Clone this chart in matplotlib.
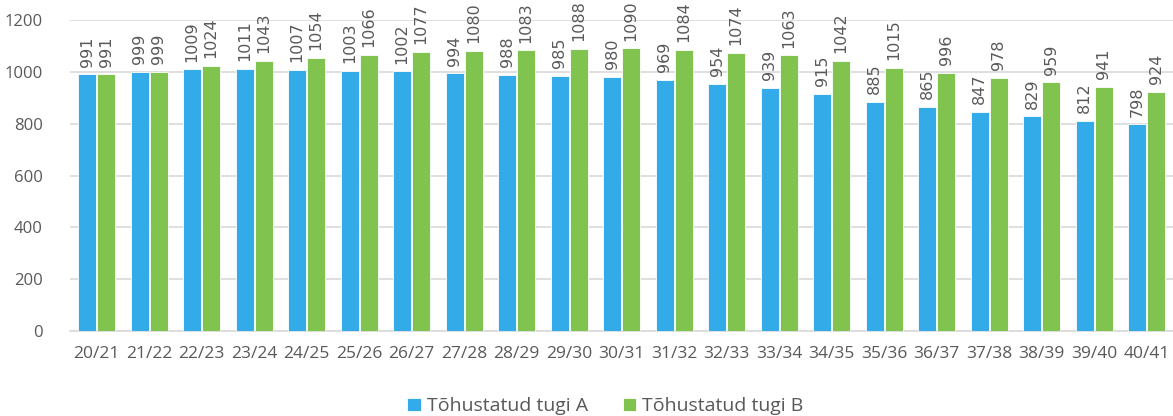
import matplotlib.pyplot as plt
import numpy as np

plt.rcParams['font.family'] = ['Open Sans', 'DejaVu Sans']

seasons = ['20/21', '21/22', '22/23', '23/24', '24/25', '25/26', '26/27', '27/28',
           '28/29', '29/30', '30/31', '31/32', '32/33', '33/34', '34/35', '35/36',
           '36/37', '37/38', '38/39', '39/40', '40/41']
tugi_a = [991, 999, 1009, 1011, 1007, 1003, 1002, 994, 988, 985, 980, 969,
          954, 939, 915, 885, 865, 847, 829, 812, 798]
tugi_b = [991, 999, 1024, 1043, 1054, 1066, 1077, 1080, 1083, 1088, 1090, 1084,
          1074, 1063, 1042, 1015, 996, 978, 959, 941, 924]

blue = '#33ABE9'
green = '#80C34F'
grey = '#595959'

fig = plt.figure(figsize=(11.73, 4.16), dpi=100)
ax = fig.add_axes([0.06, 0.204, 0.94, 0.748])

x = np.arange(len(seasons))
w = 0.34
bars_a = ax.bar(x - w / 2 - 0.01, tugi_a, w, color=blue, edgecolor='white', linewidth=0.6,
                label='Tõhustatud tugi A', zorder=3)
bars_b = ax.bar(x + w / 2 + 0.01, tugi_b, w, color=green, edgecolor='white', linewidth=0.6,
                label='Tõhustatud tugi B', zorder=3)

# vertical value labels above bars
for bars, vals in ((bars_a, tugi_a), (bars_b, tugi_b)):
    for b, v in zip(bars, vals):
        ax.annotate(str(v), (b.get_x() + b.get_width() / 2, v), xytext=(0, 5.5),
                    textcoords='offset points', rotation=90, ha='center', va='bottom',
                    fontsize=11.5, color=grey, family=['DejaVu Sans'],
                    annotation_clip=False)

ax.set_xlim(-0.5, len(seasons) - 0.5)
ax.set_ylim(0, 1200)
ax.set_yticks(range(0, 1201, 200))
ax.set_xticks(x)
ax.set_xticklabels(seasons)
ax.tick_params(axis='both', length=0, labelsize=12, colors=grey)
ax.tick_params(axis='x', labelsize=12.5, pad=11)
ax.tick_params(axis='y', pad=20)

ax.grid(axis='y', color='#D9D9D9', linewidth=1.2, zorder=0)
for s in ('top', 'right', 'left'):
    ax.spines[s].set_visible(False)
ax.spines['bottom'].set_color('#D9D9D9')
ax.spines['bottom'].set_linewidth(1.2)

fig.legend(loc='lower center', bbox_to_anchor=(0.516, -0.04), ncol=2, frameon=False,
           fontsize=14, handlelength=0.7, handleheight=0.7, handletextpad=0.3,
           columnspacing=1.8, labelcolor=grey)

fig.savefig('out.png', dpi=100)
